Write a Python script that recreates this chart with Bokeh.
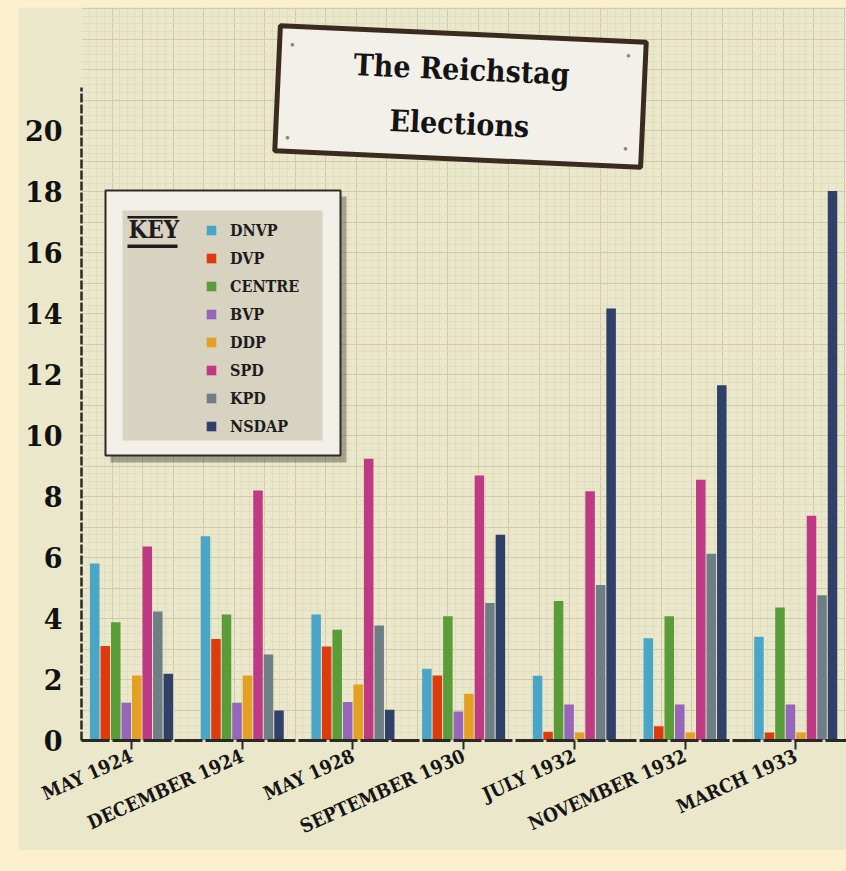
from bokeh.plotting import figure
from bokeh.models import (ColumnDataSource, FixedTicker, Range1d, Legend, LegendItem,
                          Label, BoxAnnotation, GlobalInlineStyleSheet)
from bokeh.transform import dodge
from bokeh.embed import file_html
from bokeh.resources import INLINE

# ---------------- data ----------------
elections = ["MAY 1924", "DECEMBER 1924", "MAY 1928", "SEPTEMBER 1930",
             "JULY 1932", "NOVEMBER 1932", "MARCH 1933"]
parties = ["DNVP", "DVP", "CENTRE", "BVP", "DDP", "SPD", "KPD", "NSDAP"]
dnvp = [5.8, 6.7, 4.13, 2.35, 2.12, 3.35, 3.4]
dvp = [3.1, 3.33, 3.08, 2.13, 0.29, 0.47, 0.26]
centre = [3.88, 4.13, 3.63, 4.07, 4.57, 4.07, 4.36]
bvp = [1.24, 1.24, 1.26, 0.95, 1.18, 1.18, 1.18]
ddp = [2.13, 2.13, 1.84, 1.53, 0.26, 0.26, 0.26]
spd = [6.36, 8.2, 9.24, 8.69, 8.17, 8.55, 7.37]
kpd = [4.23, 2.82, 3.77, 4.51, 5.1, 6.12, 4.76]
nsdap = [2.19, 0.98, 1.01, 6.75, 14.16, 11.65, 18.02]
y_ticks = [0, 2, 4, 6, 8, 10, 12, 14, 16, 18, 20]

colors = ["#4aa6c6", "#dd3b0e", "#5a9c37", "#9666b8", "#e3a022", "#bf3a84", "#6d7f85", "#2f4168"]

# ---------------- layout helpers ----------------
PX_X = 110.7   # pixels per election group
PX_Y = 30.5    # pixels per y unit
X0 = -0.452
FONT = "DejaVu Serif Condensed"
FONT2 = "DejaVu Serif"


def dx(rx):
    return X0 + (rx - 81) / PX_X


def dy(ry):
    return (740 - ry) / PX_Y


PAPER = "#ebe7cb"
W, H = 828, 843

p = figure(width=W, height=H, output_backend="svg", toolbar_location=None,
           x_range=Range1d(X0, X0 + (W - 63) / PX_X), y_range=Range1d(0, 733 / PX_Y),
           min_border_left=63, min_border_right=0, min_border_top=0, min_border_bottom=H - 733)
p.styles = {"margin-left": "18px", "margin-top": "7px"}
p.stylesheets = [GlobalInlineStyleSheet(css="body { background-color: #fcefcd; }")]
p.background_fill_color = PAPER
p.border_fill_color = PAPER
p.outline_line_color = None

# graph-paper grid
step = PX_Y / PX_X
p.xgrid.ticker = FixedTicker(ticks=[X0 + k * step for k in range(27)],
                             minor_ticks=[X0 + k * step / 4 for k in range(108)])
p.ygrid.ticker = FixedTicker(ticks=list(range(0, 25)),
                             minor_ticks=[k * 0.25 for k in range(97)])
for g in (p.xgrid, p.ygrid):
    g.grid_line_color = "#d2cbab"
    g.grid_line_width = 1
    g.minor_grid_line_color = "#e0dbbf"
    g.minor_grid_line_alpha = 0.9

# ---------------- bars ----------------
source = ColumnDataSource(data=dict(idx=list(range(len(elections))),
                                    DNVP=dnvp, DVP=dvp, CENTRE=centre, BVP=bvp,
                                    DDP=ddp, SPD=spd, KPD=kpd, NSDAP=nsdap))
slot = 0.0949
renderers = []
for i, (party, color) in enumerate(zip(parties, colors)):
    r = p.vbar(x=dodge("idx", (i - 3.5) * slot), top=party, width=0.086, source=source,
               fill_color=color, line_color=None)
    renderers.append(r)

# ---------------- axes ----------------
p.yaxis.ticker = FixedTicker(ticks=y_ticks)
p.yaxis.bounds = (0, 21.4)
p.yaxis.axis_line_color = "#2b2925"
p.yaxis.axis_line_width = 2.5
p.yaxis.axis_line_dash = "9 2"
p.yaxis.major_tick_line_color = None
p.yaxis.minor_tick_line_color = None
p.yaxis.major_label_text_font = FONT2
p.yaxis.major_label_text_font_style = "bold"
p.yaxis.major_label_text_font_size = "27px"
p.yaxis.major_label_text_color = "#111111"
p.yaxis.major_label_standoff = 13

p.xaxis.ticker = FixedTicker(ticks=list(range(len(elections))))
p.xaxis.major_label_overrides = {i: e for i, e in enumerate(elections)}
p.xaxis.major_label_orientation = 0.42
p.xaxis.axis_line_color = "#2b2925"
p.xaxis.axis_line_width = 3
p.xaxis.axis_line_dash = "28 3"
p.xaxis.major_tick_out = 9
p.xaxis.major_tick_in = 0
p.xaxis.major_tick_line_width = 2
p.xaxis.major_tick_line_color = "#2b2925"
p.xaxis.minor_tick_line_color = None
p.xaxis.major_label_text_font = FONT
p.xaxis.major_label_text_font_style = "bold"
p.xaxis.major_label_text_font_size = "19px"
p.xaxis.major_label_text_color = "#151515"
p.xaxis.major_label_standoff = 5

# ---------------- title plaque ----------------
title_text = "The Reichstag\nElections"
pad = dict(left=75, right=75, top=18, bottom=18)
shadow = Label(x=dx(460), y=dy(96), x_offset=6, y_offset=-8, text=title_text,
               text_align="center", text_baseline="middle", angle=-0.045,
               text_font=FONT, text_font_size="30px", text_font_style="bold",
               text_line_height=1.55, text_alpha=0,
               background_fill_color="black", background_fill_alpha=0.35,
               border_line_color=None, padding=pad)
plaque = Label(x=dx(460), y=dy(96), text=title_text,
               text_align="center", text_baseline="middle", angle=-0.045,
               text_font=FONT, text_font_size="30px", text_font_style="bold",
               text_line_height=1.55, text_color="#141414",
               background_fill_color="#f2f0e9", background_fill_alpha=1,
               border_line_color="#3a2b1f", border_line_width=5, padding=pad)
p.add_layout(shadow)
p.add_layout(plaque)
for nx, ny in [(292, 44), (628, 55), (287, 137), (625, 148)]:
    p.add_layout(Label(x=dx(nx), y=dy(ny), text="\u25cf", text_align="center",
                       text_baseline="middle", text_font_size="8px", text_color="#8a8478"))

# ---------------- key box ----------------
p.add_layout(BoxAnnotation(left=dx(110), right=dx(346), top=dy(196), bottom=dy(462),
                           fill_color="black", fill_alpha=0.3, line_color=None))
p.add_layout(BoxAnnotation(left=dx(105), right=dx(340), top=dy(190), bottom=dy(455),
                           fill_color="#f2efe8", fill_alpha=1, line_color="#2e2a25",
                           line_alpha=1, line_width=2))
p.add_layout(BoxAnnotation(left=dx(122), right=dx(322), top=dy(210), bottom=dy(440),
                           fill_color="#d8d2c1", fill_alpha=1, line_color=None))
p.add_layout(Label(x=dx(128), y=dy(243), text="KEY", text_font=FONT, text_font_style="bold",
                   text_font_size="24px", text_color="#1c1c1c", text_baseline="bottom"))
p.add_layout(BoxAnnotation(left=dx(127), right=dx(177), top=dy(215.5), bottom=dy(218),
                           fill_color="#1c1c1c", fill_alpha=1, line_color=None))
p.add_layout(BoxAnnotation(left=dx(127), right=dx(177), top=dy(244), bottom=dy(247.5),
                           fill_color="#1c1c1c", fill_alpha=1, line_color=None))

legend = Legend(items=[LegendItem(label=pt, renderers=[r]) for pt, r in zip(parties, renderers)],
                location=(124, 304), margin=0, padding=5, spacing=8,
                glyph_width=12, glyph_height=12, label_height=20, label_standoff=13,
                background_fill_alpha=0, border_line_color=None,
                label_text_font=FONT, label_text_font_style="bold",
                label_text_font_size="16px", label_text_color="#1c1c1c")
p.add_layout(legend)

open("out.html", "w").write(file_html(p, INLINE))
